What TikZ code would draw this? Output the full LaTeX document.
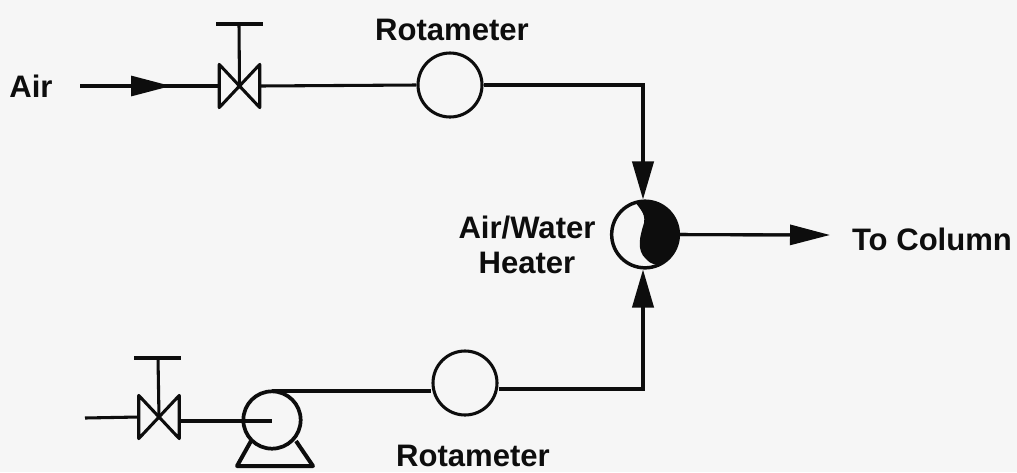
\documentclass[tikz,border=0pt]{standalone}
\usepackage{fontspec}
\setmainfont{Liberation Sans}
\usetikzlibrary{arrows.meta}
\definecolor{bgc}{HTML}{F6F6F6}
\definecolor{ink}{HTML}{0D0D0D}
\tikzset{
  pipe/.style={draw=ink,line width=2.3pt},
  rota/.style={circle,draw=ink,line width=2.3pt,minimum size=48pt,inner sep=0pt},
  valvebox/.style={minimum width=30pt,minimum height=32pt,inner sep=0pt},
  bowtie/.style={draw=ink,line width=2.3pt,line join=round},
  label/.style={font=\bfseries\fontsize{23.3pt}{26.5pt}\selectfont,text=ink,align=center,inner sep=0pt},
  bigtip/.style={-{Triangle[length=28.5pt,width=16pt]}},
  flowtip/.style={-{Triangle[length=30pt,width=15pt]}},
}
\begin{document}
\begin{tikzpicture}[x=0.75pt,y=-0.75pt]
\useasboundingbox[fill=bgc] (0,0) rectangle (1017,472);
% equipment
\node[rota] (rot1) at (450,85) {};
\node[rota] (rot2) at (465,383) {};
\node[circle,draw=ink,line width=2.6pt,minimum width=50pt,inner sep=0pt] (heater) at (645,234.5) {};
\begin{scope}
  \clip (645,234.5) circle (25pt);
  \fill[ink] (633,198) .. controls (638,208) and (646,212) .. (644,223)
     .. controls (640,236) and (636,250) .. (646,259)
     .. controls (650,264) and (657,266) .. (664,265)
     -- (690,270) -- (690,190) -- (633,190) -- cycle;
\end{scope}
\node[valvebox] (v1) at (239.5,86) {};
\node[valvebox] (v2) at (159,417) {};
\node[circle,draw=ink,line width=2.8pt,minimum size=43pt,inner sep=0pt] (pump) at (272,420) {};
\draw[bowtie] (v1.north west)--(v1.south east)--(v1.north east)--(v1.south west)--cycle;
\draw[bowtie] (v2.north west)--(v2.south east)--(v2.north east)--(v2.south west)--cycle;
% handles
\coordinate (h1) at (239,24);
\coordinate (h1l) at (216,24);
\coordinate (h1r) at (263,24);
\coordinate (h2) at (158,358);
\coordinate (h2l) at (134,358);
\coordinate (h2r) at (181,358);
\draw[pipe] (h1) -- (v1.center);
\draw[pipe] (h2) -- (v2.center);
\draw[draw=ink,line width=3pt] (h1l) -- (h1r);
\draw[draw=ink,line width=3pt] (h2l) -- (h2r);
% pump base
\coordinate (b1) at (251,441);
\coordinate (b2) at (237,466);
\coordinate (b3) at (313,466);
\coordinate (b4) at (296,441);
\draw[draw=ink,line width=3pt,line join=round] (b1) -- (b2) -- (b3) -- (b4);
% air line
\coordinate (airs) at (80,86);
\coordinate (airt) at (171,86);
\draw[pipe] (airs) -- (v1.west);
\draw[pipe,flowtip] (airs) -- (airt);
\draw[pipe] (v1.east) -- (rot1.west);
\coordinate (c1) at (643,85);
\draw[pipe,bigtip] (rot1.east) -- (c1) -- (c1 |- heater.north);
% water line
\coordinate (ws) at (85,418);
\draw[pipe] (ws) -- (v2.west);
\coordinate (pc) at (272,421);
\draw[pipe] (v2.east |- pc) -- (pc);
\coordinate (pt) at (272,391);
\draw[pipe] (pt) -- (rot2.west |- pt);
\coordinate (c2) at (643,389);
\draw[pipe,bigtip] (rot2.east |- c2) -- (c2) -- (c2 |- heater.south);
% outlet
\coordinate (out) at (830,235);
\draw[pipe] (heater.east) -- (800,235);
\draw[pipe,flowtip] (heater.east) -- (out);
% labels
\node[label] (lair) at (31,86.5) {Air};
\node[label] (lr1) at (452,30) {Rotameter};
\node[label] (lr2) at (473,456) {Rotameter};
\node[label] (lh) at (527,245) {Air/Water\\Heater};
\node[label] (lc) at (932,239) {To Column};
\end{tikzpicture}
\end{document}
